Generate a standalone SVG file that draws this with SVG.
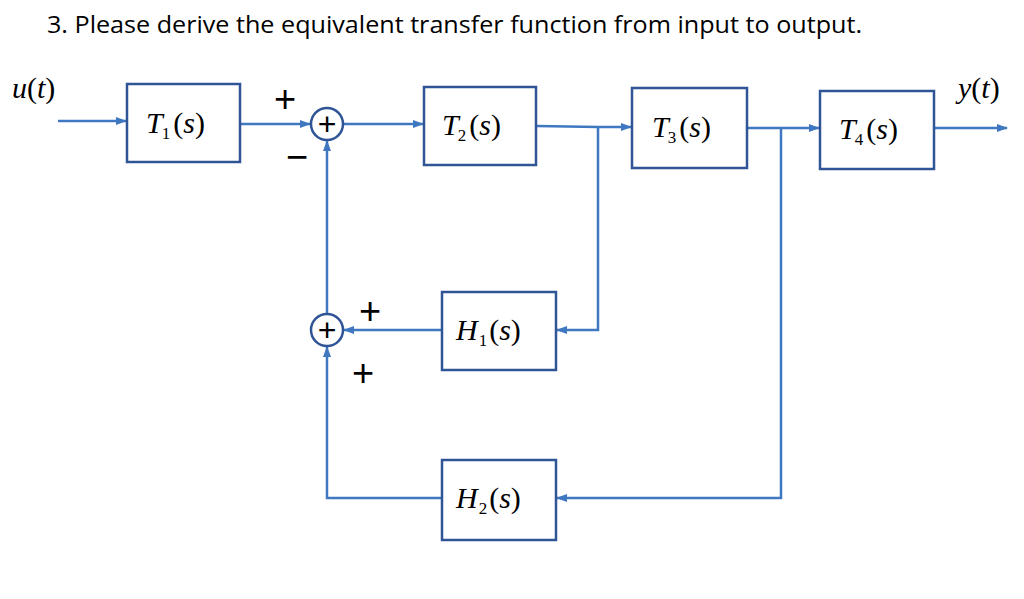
<svg xmlns="http://www.w3.org/2000/svg" width="1024" height="599" viewBox="0 0 1024 599">
<defs>
<marker id="a" markerWidth="11" markerHeight="10" refX="10" refY="5" orient="auto" markerUnits="userSpaceOnUse"><path d="M0,1 L11,5 L0,9 Z" fill="#3F78C0"/></marker>
<style>
.b{fill:#fff;stroke:#2F5597;stroke-width:2.5}
.l{fill:none;stroke:#3F78C0;stroke-width:2.5}
.t{font-family:"Liberation Serif",serif;font-style:italic;font-size:30px;fill:#000}
.s{font-family:"Liberation Serif",serif;font-style:normal;font-size:17px}
.p{font-family:"Liberation Sans",sans-serif;font-size:38px;fill:#000}
</style>
</defs>
<rect width="1024" height="599" fill="#fff"/>
<text x="47" y="33" font-family="Open Sans,Liberation Sans,sans-serif" font-size="23" textLength="815" lengthAdjust="spacingAndGlyphs">3. Please derive the equivalent transfer function from input to output.</text>
<text class="t" x="12" y="98">u<tspan font-style="normal">(</tspan>t<tspan font-style="normal">)</tspan></text>
<text class="t" x="958" y="98">y<tspan font-style="normal">(</tspan>t<tspan font-style="normal">)</tspan></text>
<g id="connectors">
<path class="l" d="M58,121 H126" marker-end="url(#a)"/>
<path class="l" d="M241,124 H310" marker-end="url(#a)"/>
<path class="l" d="M343,124 H423" marker-end="url(#a)"/>
<path class="l" d="M537,126 L598,127 H631" marker-end="url(#a)"/>
<path class="l" d="M598,127 V330 H557" marker-end="url(#a)"/>
<path class="l" d="M748,128 H819" marker-end="url(#a)"/>
<path class="l" d="M781,128 V498 H557" marker-end="url(#a)"/>
<path class="l" d="M935,128 H1007" marker-end="url(#a)"/>
<path class="l" d="M441,330 H344" marker-end="url(#a)"/>
<path class="l" d="M441,498 H327 V347" marker-end="url(#a)"/>
<path class="l" d="M327,314 V141" marker-end="url(#a)"/>
</g>
<g id="T1"><rect class="b" x="127" y="84" width="113" height="78"/><text class="t" x="146" y="133">T<tspan class="s" dy="6" dx="-1">1</tspan><tspan dy="-6" dx="3" font-style="normal">(</tspan>s<tspan font-style="normal">)</tspan></text></g>
<g id="T2"><rect class="b" x="424" y="87" width="112" height="78"/><text class="t" x="442" y="135">T<tspan class="s" dy="6" dx="-1">2</tspan><tspan dy="-6" dx="3" font-style="normal">(</tspan>s<tspan font-style="normal">)</tspan></text></g>
<g id="T3"><rect class="b" x="632" y="88" width="115" height="80"/><text class="t" x="652" y="137">T<tspan class="s" dy="6" dx="-1">3</tspan><tspan dy="-6" dx="3" font-style="normal">(</tspan>s<tspan font-style="normal">)</tspan></text></g>
<g id="T4"><rect class="b" x="820" y="91" width="114" height="78"/><text class="t" x="839" y="139">T<tspan class="s" dy="6" dx="-1">4</tspan><tspan dy="-6" dx="3" font-style="normal">(</tspan>s<tspan font-style="normal">)</tspan></text></g>
<g id="H1"><rect class="b" x="442" y="292" width="114" height="78"/><text class="t" x="456" y="340">H<tspan class="s" dy="6" dx="1">1</tspan><tspan dy="-6" dx="2" font-style="normal">(</tspan>s<tspan font-style="normal">)</tspan></text></g>
<g id="H2"><rect class="b" x="442" y="460" width="114" height="80"/><text class="t" x="456" y="508">H<tspan class="s" dy="6" dx="1">2</tspan><tspan dy="-6" dx="2" font-style="normal">(</tspan>s<tspan font-style="normal">)</tspan></text></g>
<g id="sum1"><circle cx="327" cy="124" r="16" fill="#fff" stroke="#2F5597" stroke-width="2.5"/><text x="327" y="135" text-anchor="middle" font-family="Liberation Sans,sans-serif" font-size="32">+</text></g>
<g id="sum2"><circle cx="327" cy="330" r="16" fill="#fff" stroke="#2F5597" stroke-width="2.5"/><text x="327" y="341" text-anchor="middle" font-family="Liberation Sans,sans-serif" font-size="32">+</text></g>
<text class="p" x="274" y="112">+</text>
<text class="p" x="286" y="170">−</text>
<text class="p" x="359" y="324">+</text>
<text class="p" x="352" y="386">+</text>
</svg>
